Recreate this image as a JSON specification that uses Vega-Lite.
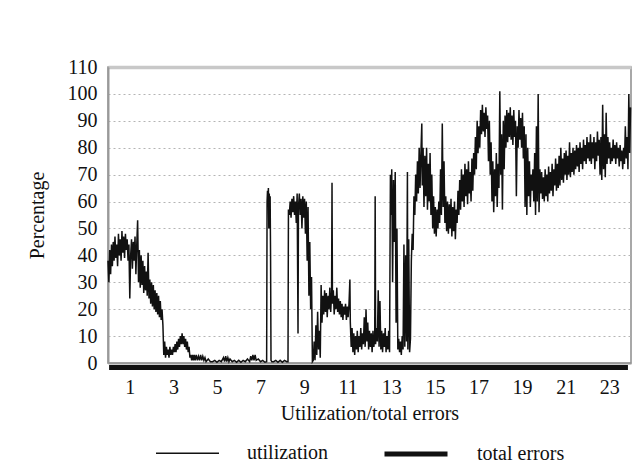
{
"$schema": "https://vega.github.io/schema/vega-lite/v6.json",
"width": 523, "height": 296,
"autosize": {"type": "none"},
"padding": {"left": 108, "top": 67, "right": 8, "bottom": 109},
"background": "white",
"config": {
 "font": "Liberation Serif",
 "view": {"stroke": "#8c8c8c", "strokeWidth": 1.5},
 "axis": {"labelFont": "Liberation Serif", "titleFont": "Liberation Serif", "labelFontSize": 20, "titleFontSize": 20, "titleFontWeight": "normal", "labelColor": "#111", "titleColor": "#111", "domainColor": "#999", "domainWidth": 2, "ticks": false, "tickSize": 0, "labelOverlap": false},
 "legend": {"labelFont": "Liberation Serif", "labelFontSize": 20, "labelColor": "#111"}
},
"datasets": {
 "util": [
{"t":0,"u":38},{"t":0.04,"u":30},{"t":0.08,"u":42},{"t":0.12,"u":33},{"t":0.16,"u":44},{"t":0.2,"u":36},{"t":0.24,"u":45},{"t":0.28,"u":38},{"t":0.32,"u":47},{"t":0.36,"u":39},{"t":0.4,"u":44},{"t":0.44,"u":36},{"t":0.48,"u":48},{"t":0.52,"u":40},{"t":0.56,"u":46},{"t":0.6,"u":38},{"t":0.64,"u":49},{"t":0.68,"u":41},{"t":0.72,"u":47},{"t":0.76,"u":39},{"t":0.8,"u":48},{"t":0.84,"u":42},{"t":0.88,"u":46},{"t":0.92,"u":38},{"t":0.96,"u":44},
{"t":1,"u":24},{"t":1.04,"u":40},{"t":1.08,"u":46},{"t":1.12,"u":35},{"t":1.16,"u":45},{"t":1.2,"u":38},{"t":1.24,"u":47},{"t":1.28,"u":33},{"t":1.32,"u":44},{"t":1.36,"u":53},{"t":1.4,"u":30},
{"t":1.44,"u":42},{"t":1.48,"u":28},{"t":1.52,"u":40},{"t":1.56,"u":29},{"t":1.6,"u":38},{"t":1.64,"u":26},{"t":1.68,"u":36},{"t":1.72,"u":27},{"t":1.76,"u":34},{"t":1.8,"u":25},{"t":1.84,"u":41},{"t":1.88,"u":24},{"t":1.92,"u":31},{"t":1.96,"u":22},{"t":2,"u":30},
{"t":2.04,"u":21},{"t":2.08,"u":29},{"t":2.12,"u":20},{"t":2.16,"u":27},{"t":2.2,"u":19},{"t":2.24,"u":26},{"t":2.28,"u":18},{"t":2.32,"u":25},{"t":2.36,"u":17},{"t":2.4,"u":23},{"t":2.44,"u":16},{"t":2.48,"u":20},{"t":2.52,"u":14},
{"t":2.56,"u":3},{"t":2.6,"u":8},{"t":2.64,"u":2},{"t":2.68,"u":6},{"t":2.72,"u":3},{"t":2.76,"u":5},{"t":2.8,"u":2},{"t":2.84,"u":6},{"t":2.88,"u":3},{"t":2.92,"u":5},{"t":2.96,"u":3},{"t":3,"u":6},{"t":3.04,"u":4},{"t":3.08,"u":7},{"t":3.12,"u":4},{"t":3.16,"u":8},{"t":3.2,"u":5},{"t":3.24,"u":9},{"t":3.28,"u":6},{"t":3.32,"u":10},{"t":3.36,"u":7},{"t":3.4,"u":11},{"t":3.44,"u":7},{"t":3.48,"u":10},{"t":3.52,"u":6},{"t":3.56,"u":9},{"t":3.6,"u":5},{"t":3.64,"u":8},{"t":3.68,"u":4},{"t":3.72,"u":6},{"t":3.76,"u":2},{"t":3.8,"u":3},{"t":3.84,"u":1},{"t":3.88,"u":3},{"t":3.92,"u":1},{"t":3.96,"u":3},{"t":4,"u":1},{"t":4.05,"u":3},{"t":4.1,"u":1},{"t":4.15,"u":2.5},{"t":4.2,"u":1},{"t":4.25,"u":3},{"t":4.3,"u":1},{"t":4.35,"u":2.5},{"t":4.4,"u":1},{"t":4.45,"u":2},{"t":4.5,"u":0.5},{"t":4.6,"u":1.5},{"t":4.7,"u":0.5},
{"t":4.8,"u":0.5},{"t":4.9,"u":1},{"t":5,"u":0.3},{"t":5.1,"u":1},{"t":5.2,"u":0.5},{"t":5.3,"u":2},{"t":5.35,"u":0.5},{"t":5.4,"u":2.5},{"t":5.45,"u":0.5},{"t":5.5,"u":2},{"t":5.55,"u":0.5},{"t":5.6,"u":1.5},{"t":5.7,"u":0.5},{"t":5.8,"u":1},{"t":5.9,"u":0.3},{"t":6,"u":1},{"t":6.1,"u":0.3},{"t":6.2,"u":1},{"t":6.3,"u":0.5},{"t":6.4,"u":1.5},{"t":6.5,"u":0.5},{"t":6.55,"u":2.5},{"t":6.6,"u":1},{"t":6.65,"u":3},{"t":6.7,"u":1},{"t":6.75,"u":3},{"t":6.8,"u":1},{"t":6.9,"u":1.5},{"t":7,"u":0.5},{"t":7.1,"u":1},{"t":7.2,"u":0.3},
{"t":7.28,"u":0.5},{"t":7.3,"u":60},{"t":7.32,"u":64},{"t":7.34,"u":58},{"t":7.36,"u":65},{"t":7.38,"u":50},{"t":7.4,"u":63},{"t":7.42,"u":55},{"t":7.44,"u":62},{"t":7.46,"u":40},{"t":7.48,"u":1},{"t":7.52,"u":0.5},
{"t":7.6,"u":0.5},{"t":7.7,"u":1},{"t":7.8,"u":0.3},{"t":7.9,"u":1},{"t":8,"u":0.3},{"t":8.1,"u":1},{"t":8.2,"u":0.5},
{"t":8.26,"u":0.5},{"t":8.28,"u":57},{"t":8.32,"u":55},{"t":8.36,"u":60},{"t":8.4,"u":54},{"t":8.44,"u":61},{"t":8.48,"u":56},{"t":8.52,"u":62},{"t":8.56,"u":55},{"t":8.6,"u":60},{"t":8.64,"u":52},{"t":8.68,"u":63},{"t":8.72,"u":11},{"t":8.74,"u":58},{"t":8.78,"u":63},{"t":8.82,"u":55},{"t":8.86,"u":61},{"t":8.9,"u":50},{"t":8.94,"u":62},{"t":8.98,"u":54},{"t":9.02,"u":61},{"t":9.06,"u":48},{"t":9.1,"u":60},{"t":9.14,"u":38},{"t":9.18,"u":58},{"t":9.22,"u":25},{"t":9.26,"u":45},{"t":9.3,"u":20},{"t":9.34,"u":32},{"t":9.38,"u":0.5},
{"t":9.42,"u":1},{"t":9.46,"u":8},{"t":9.5,"u":1},{"t":9.54,"u":14},{"t":9.58,"u":3},{"t":9.62,"u":19},{"t":9.66,"u":5},{"t":9.7,"u":12},{"t":9.74,"u":2},{"t":9.78,"u":29},{"t":9.82,"u":15},{"t":9.86,"u":25},{"t":9.9,"u":18},
{"t":9.94,"u":27},{"t":9.98,"u":19},{"t":10.02,"u":26},{"t":10.06,"u":17},{"t":10.1,"u":25},{"t":10.14,"u":20},{"t":10.18,"u":28},{"t":10.22,"u":19},{"t":10.26,"u":26},{"t":10.28,"u":67},{"t":10.3,"u":22},{"t":10.34,"u":27},{"t":10.38,"u":18},{"t":10.42,"u":25},{"t":10.46,"u":20},{"t":10.5,"u":28},{"t":10.54,"u":19},{"t":10.58,"u":24},{"t":10.62,"u":18},{"t":10.66,"u":23},{"t":10.7,"u":17},{"t":10.74,"u":22},{"t":10.78,"u":16},{"t":10.82,"u":21},{"t":10.86,"u":18},{"t":10.9,"u":22},{"t":10.94,"u":16},{"t":10.98,"u":21},{"t":11.02,"u":17},{"t":11.06,"u":22},{"t":11.1,"u":31},{"t":11.12,"u":15},
{"t":11.16,"u":6},{"t":11.2,"u":13},{"t":11.24,"u":4},{"t":11.28,"u":11},{"t":11.32,"u":3},{"t":11.36,"u":10},{"t":11.4,"u":5},{"t":11.44,"u":12},{"t":11.48,"u":4},{"t":11.52,"u":10},{"t":11.56,"u":6},{"t":11.6,"u":13},{"t":11.64,"u":5},{"t":11.68,"u":11},{"t":11.72,"u":7},{"t":11.76,"u":17},{"t":11.8,"u":6},{"t":11.84,"u":20},{"t":11.88,"u":8},{"t":11.92,"u":15},{"t":11.96,"u":5},{"t":12,"u":12},{"t":12.04,"u":6},{"t":12.08,"u":11},{"t":12.12,"u":4},{"t":12.16,"u":12},{"t":12.2,"u":6},{"t":12.24,"u":10},{"t":12.26,"u":62},{"t":12.28,"u":7},{"t":12.32,"u":13},{"t":12.36,"u":8},{"t":12.4,"u":27},{"t":12.44,"u":6},{"t":12.48,"u":23},{"t":12.52,"u":5},{"t":12.56,"u":12},{"t":12.6,"u":4},{"t":12.64,"u":11},{"t":12.68,"u":6},{"t":12.72,"u":13},{"t":12.76,"u":4},{"t":12.8,"u":10},{"t":12.84,"u":5},{"t":12.88,"u":12},{"t":12.92,"u":4},
{"t":12.96,"u":70},{"t":13,"u":55},{"t":13.02,"u":72},{"t":13.06,"u":30},{"t":13.1,"u":68},{"t":13.14,"u":45},{"t":13.18,"u":71},{"t":13.22,"u":15},{"t":13.26,"u":50},{"t":13.3,"u":5},
{"t":13.34,"u":9},{"t":13.38,"u":4},{"t":13.42,"u":8},{"t":13.46,"u":3},{"t":13.5,"u":10},{"t":13.54,"u":5},{"t":13.58,"u":44},{"t":13.62,"u":6},{"t":13.66,"u":40},{"t":13.7,"u":8},{"t":13.74,"u":71},{"t":13.76,"u":5},{"t":13.8,"u":46},{"t":13.84,"u":4},{"t":13.88,"u":9},{"t":13.92,"u":38},{"t":13.96,"u":48},{"t":14,"u":42},{"t":14.04,"u":62},{"t":14.08,"u":55},{"t":14.12,"u":70},{"t":14.16,"u":60},{"t":14.2,"u":75},{"t":14.24,"u":63},{"t":14.28,"u":80},{"t":14.32,"u":65},{"t":14.36,"u":78},{"t":14.4,"u":89},{"t":14.42,"u":66},{"t":14.46,"u":80},{"t":14.5,"u":58},{"t":14.54,"u":77},{"t":14.58,"u":62},{"t":14.62,"u":80},{"t":14.66,"u":57},{"t":14.7,"u":74},{"t":14.74,"u":60},{"t":14.78,"u":78},{"t":14.82,"u":55},{"t":14.86,"u":70},{"t":14.9,"u":50},{"t":14.94,"u":62},{"t":14.98,"u":48},
{"t":15.02,"u":58},{"t":15.06,"u":47},{"t":15.1,"u":57},{"t":15.14,"u":50},{"t":15.18,"u":60},{"t":15.22,"u":52},{"t":15.26,"u":72},{"t":15.3,"u":55},{"t":15.34,"u":89},{"t":15.38,"u":58},{"t":15.42,"u":75},{"t":15.46,"u":52},{"t":15.5,"u":62},{"t":15.54,"u":49},{"t":15.58,"u":60},{"t":15.62,"u":48},{"t":15.66,"u":59},{"t":15.7,"u":50},{"t":15.74,"u":61},{"t":15.78,"u":47},{"t":15.82,"u":58},{"t":15.86,"u":49},{"t":15.9,"u":60},{"t":15.94,"u":46},{"t":15.98,"u":57},
{"t":16.02,"u":52},{"t":16.06,"u":64},{"t":16.1,"u":55},{"t":16.14,"u":68},{"t":16.18,"u":57},{"t":16.22,"u":72},{"t":16.26,"u":60},{"t":16.3,"u":70},{"t":16.34,"u":58},{"t":16.38,"u":74},{"t":16.42,"u":62},{"t":16.46,"u":72},{"t":16.5,"u":59},{"t":16.54,"u":75},{"t":16.58,"u":63},{"t":16.62,"u":71},{"t":16.66,"u":60},{"t":16.7,"u":76},{"t":16.74,"u":64},{"t":16.78,"u":78},{"t":16.82,"u":70},{"t":16.86,"u":84},{"t":16.9,"u":72},{"t":16.94,"u":90},{"t":16.98,"u":78},
{"t":17.02,"u":88},{"t":17.06,"u":80},{"t":17.1,"u":94},{"t":17.14,"u":85},{"t":17.18,"u":96},{"t":17.22,"u":86},{"t":17.26,"u":93},{"t":17.3,"u":84},{"t":17.34,"u":95},{"t":17.38,"u":87},{"t":17.42,"u":92},{"t":17.46,"u":75},{"t":17.5,"u":90},{"t":17.54,"u":70},{"t":17.58,"u":82},{"t":17.62,"u":60},{"t":17.66,"u":75},{"t":17.7,"u":56},{"t":17.74,"u":72},{"t":17.78,"u":62},{"t":17.82,"u":78},{"t":17.86,"u":58},{"t":17.9,"u":74},{"t":17.94,"u":65},{"t":17.98,"u":101},
{"t":18.02,"u":70},{"t":18.06,"u":85},{"t":18.1,"u":57},{"t":18.14,"u":90},{"t":18.18,"u":72},{"t":18.22,"u":92},{"t":18.26,"u":80},{"t":18.3,"u":94},{"t":18.34,"u":82},{"t":18.38,"u":93},{"t":18.42,"u":84},{"t":18.46,"u":95},{"t":18.5,"u":83},{"t":18.54,"u":92},{"t":18.58,"u":81},{"t":18.62,"u":94},{"t":18.66,"u":84},{"t":18.7,"u":90},{"t":18.74,"u":62},{"t":18.78,"u":88},{"t":18.82,"u":80},{"t":18.86,"u":94},{"t":18.9,"u":83},{"t":18.94,"u":91},{"t":18.98,"u":80},
{"t":19.02,"u":93},{"t":19.06,"u":76},{"t":19.1,"u":88},{"t":19.14,"u":58},{"t":19.18,"u":85},{"t":19.22,"u":55},{"t":19.26,"u":80},{"t":19.3,"u":62},{"t":19.34,"u":75},{"t":19.38,"u":58},{"t":19.42,"u":70},{"t":19.46,"u":64},{"t":19.5,"u":72},{"t":19.54,"u":60},{"t":19.58,"u":78},{"t":19.62,"u":55},{"t":19.66,"u":88},{"t":19.7,"u":60},{"t":19.74,"u":100},{"t":19.78,"u":56},{"t":19.82,"u":72},{"t":19.86,"u":63},{"t":19.9,"u":71},{"t":19.94,"u":61},{"t":19.98,"u":69},
{"t":20.02,"u":60},{"t":20.06,"u":72},{"t":20.1,"u":62},{"t":20.14,"u":70},{"t":20.18,"u":60},{"t":20.22,"u":73},{"t":20.26,"u":63},{"t":20.3,"u":71},{"t":20.34,"u":64},{"t":20.38,"u":74},{"t":20.42,"u":62},{"t":20.46,"u":72},{"t":20.5,"u":66},{"t":20.54,"u":76},{"t":20.58,"u":64},{"t":20.62,"u":74},{"t":20.66,"u":65},{"t":20.7,"u":77},{"t":20.74,"u":66},{"t":20.78,"u":80},{"t":20.82,"u":68},{"t":20.86,"u":76},{"t":20.9,"u":67},{"t":20.94,"u":78},{"t":20.98,"u":70},
{"t":21.02,"u":79},{"t":21.06,"u":68},{"t":21.1,"u":77},{"t":21.14,"u":70},{"t":21.18,"u":82},{"t":21.22,"u":69},{"t":21.26,"u":78},{"t":21.3,"u":71},{"t":21.34,"u":80},{"t":21.38,"u":70},{"t":21.42,"u":79},{"t":21.46,"u":72},{"t":21.5,"u":81},{"t":21.54,"u":73},{"t":21.58,"u":80},{"t":21.62,"u":71},{"t":21.66,"u":82},{"t":21.7,"u":74},{"t":21.74,"u":80},{"t":21.78,"u":72},{"t":21.82,"u":83},{"t":21.86,"u":75},{"t":21.9,"u":81},{"t":21.94,"u":74},{"t":21.98,"u":84},
{"t":22.02,"u":76},{"t":22.06,"u":82},{"t":22.1,"u":75},{"t":22.14,"u":85},{"t":22.18,"u":74},{"t":22.22,"u":82},{"t":22.26,"u":76},{"t":22.3,"u":84},{"t":22.34,"u":72},{"t":22.38,"u":82},{"t":22.42,"u":75},{"t":22.46,"u":86},{"t":22.5,"u":77},{"t":22.54,"u":83},{"t":22.58,"u":70},{"t":22.62,"u":84},{"t":22.66,"u":68},{"t":22.7,"u":96},{"t":22.74,"u":72},{"t":22.78,"u":85},{"t":22.82,"u":69},{"t":22.86,"u":93},{"t":22.9,"u":74},{"t":22.94,"u":84},{"t":22.98,"u":76},
{"t":23.02,"u":82},{"t":23.06,"u":74},{"t":23.1,"u":80},{"t":23.14,"u":75},{"t":23.18,"u":83},{"t":23.22,"u":76},{"t":23.26,"u":81},{"t":23.3,"u":74},{"t":23.34,"u":82},{"t":23.38,"u":76},{"t":23.42,"u":80},{"t":23.46,"u":73},{"t":23.5,"u":81},{"t":23.54,"u":75},{"t":23.58,"u":79},{"t":23.62,"u":72},{"t":23.66,"u":80},{"t":23.7,"u":74},{"t":23.74,"u":88},{"t":23.78,"u":76},{"t":23.82,"u":84},{"t":23.86,"u":72},{"t":23.9,"u":100},{"t":23.94,"u":78},{"t":23.98,"u":95}
 ],
 "err": [
{"t":0.05,"e":0},{"t":1,"e":0},{"t":2,"e":0},{"t":3,"e":0},{"t":4,"e":0},{"t":5,"e":0},{"t":6,"e":0},{"t":7,"e":0},{"t":8,"e":0},{"t":9,"e":0},{"t":10,"e":0},{"t":11,"e":0},{"t":12,"e":0},{"t":13,"e":0},{"t":14,"e":0},{"t":15,"e":0},{"t":16,"e":0},{"t":17,"e":0},{"t":18,"e":0},{"t":19,"e":0},{"t":20,"e":0},{"t":21,"e":0},{"t":22,"e":0},{"t":23,"e":0},{"t":23.86,"e":0}
 ]
},
"layer": [
 {
  "data": {"name": "util"},
  "mark": {"type": "line", "color": "#111"},
  "encoding": {
   "x": {"field": "t", "type": "quantitative", "scale": {"domain": [0, 24], "nice": false}, "axis": {"title": "Utilization/total errors", "values": [1,3,5,7,9,11,13,15,17,19,21,23], "labelPadding": 14, "titlePadding": 6, "grid": false, "labelFlush": false}},
   "y": {"field": "u", "type": "quantitative", "scale": {"domain": [0, 110], "nice": false}, "axis": {"title": "Percentage", "values": [0,10,20,30,40,50,60,70,80,90,100,110], "labelOverlap": false, "labelPadding": 11, "titlePadding": 20, "grid": true, "gridColor": {"condition": {"test": "datum.value === 110", "value": "#c8c8c8"}, "value": "#b4b4b4"}, "gridWidth": {"condition": {"test": "datum.value === 110", "value": 3.5}, "value": 1}, "gridDash": {"condition": {"test": "datum.value === 110", "value": []}, "value": [2, 3]}}},
   "strokeWidth": {"datum": "utilization", "type": "ordinal", "scale": {"domain": ["utilization", "total errors"], "range": [1.5, 5]}, "legend": {"title": null, "orient": "none", "direction": "horizontal", "legendX": 47, "legendY": 353, "symbolType": "stroke", "symbolStrokeColor": "#111", "symbolSize": 3969, "labelOffset": 27, "columnPadding": 45}}
  }
 },
 {
  "data": {"name": "err"},
  "mark": {"type": "line", "color": "#111", "yOffset": 4.5, "clip": false},
  "encoding": {
   "x": {"field": "t", "type": "quantitative", "axis": {"title": "Utilization/total errors", "values": [1,3,5,7,9,11,13,15,17,19,21,23], "labelPadding": 14, "titlePadding": 6, "grid": false, "labelFlush": false}},
   "y": {"field": "e", "type": "quantitative", "axis": {"title": "Percentage", "values": [0,10,20,30,40,50,60,70,80,90,100,110], "labelOverlap": false, "labelPadding": 11, "titlePadding": 20, "grid": true, "gridColor": {"condition": {"test": "datum.value === 110", "value": "#c8c8c8"}, "value": "#b4b4b4"}, "gridWidth": {"condition": {"test": "datum.value === 110", "value": 3.5}, "value": 1}, "gridDash": {"condition": {"test": "datum.value === 110", "value": []}, "value": [2, 3]}}},
   "strokeWidth": {"datum": "total errors", "type": "ordinal"}
  }
 }
]
}
